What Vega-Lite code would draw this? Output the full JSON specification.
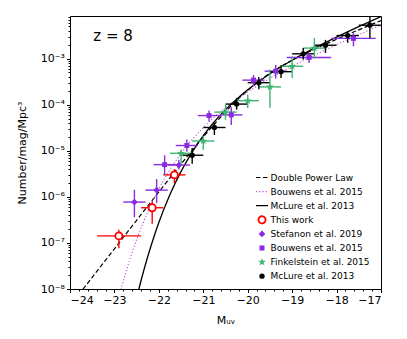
{
  "$schema": "https://vega.github.io/schema/vega-lite/v6.json",
  "width": 311,
  "height": 273,
  "autosize": {"type": "none"},
  "padding": {"left": 70, "top": 16, "right": 26, "bottom": 50},
  "config": {
    "font": "DejaVu Sans",
    "view": {"stroke": "black", "strokeWidth": 1},
    "axis": {
      "domain": false, "grid": false, "tickColor": "black", "tickWidth": 1,
      "labelColor": "black", "titleColor": "black", "labelFont": "DejaVu Sans", "titleFont": "DejaVu Sans",
      "labelFontSize": 11, "titleFontSize": 11, "titleFontWeight": "normal", "labelPadding": 2
    },
    "legend": {"labelFont": "DejaVu Sans"}
  },
  "datasets": {
    "curves": [
      {"series": "Double Power Law", "M": -24.0, "phi": 4.31e-9},
      {"series": "Double Power Law", "M": -23.5, "phi": 1.79e-8},
      {"series": "Double Power Law", "M": -23.0, "phi": 7.46e-8},
      {"series": "Double Power Law", "M": -22.5, "phi": 3.10e-7},
      {"series": "Double Power Law", "M": -22.0, "phi": 1.276e-6},
      {"series": "Double Power Law", "M": -21.5, "phi": 5.16e-6},
      {"series": "Double Power Law", "M": -21.0, "phi": 2.0e-5},
      {"series": "Double Power Law", "M": -20.75, "phi": 3.79e-5},
      {"series": "Double Power Law", "M": -20.5, "phi": 6.98e-5},
      {"series": "Double Power Law", "M": -20.25, "phi": 1.23e-4},
      {"series": "Double Power Law", "M": -20.0, "phi": 2.04e-4},
      {"series": "Double Power Law", "M": -19.75, "phi": 3.21e-4},
      {"series": "Double Power Law", "M": -19.5, "phi": 4.76e-4},
      {"series": "Double Power Law", "M": -19.0, "phi": 9.23e-4},
      {"series": "Double Power Law", "M": -18.5, "phi": 1.60e-3},
      {"series": "Double Power Law", "M": -18.0, "phi": 2.62e-3},
      {"series": "Double Power Law", "M": -17.5, "phi": 4.21e-3},
      {"series": "Double Power Law", "M": -17.0, "phi": 6.70e-3},
      {"series": "Bouwens et al. 2015 fit", "M": -23.0, "phi": 2.79e-9},
      {"series": "Bouwens et al. 2015 fit", "M": -22.875, "phi": 8.2e-9},
      {"series": "Bouwens et al. 2015 fit", "M": -22.75, "phi": 2.19e-8},
      {"series": "Bouwens et al. 2015 fit", "M": -22.5, "phi": 1.178e-7},
      {"series": "Bouwens et al. 2015 fit", "M": -22.25, "phi": 4.71e-7},
      {"series": "Bouwens et al. 2015 fit", "M": -22.0, "phi": 1.486e-6},
      {"series": "Bouwens et al. 2015 fit", "M": -21.75, "phi": 3.89e-6},
      {"series": "Bouwens et al. 2015 fit", "M": -21.5, "phi": 8.75e-6},
      {"series": "Bouwens et al. 2015 fit", "M": -21.25, "phi": 1.75e-5},
      {"series": "Bouwens et al. 2015 fit", "M": -21.0, "phi": 3.18e-5},
      {"series": "Bouwens et al. 2015 fit", "M": -20.75, "phi": 5.38e-5},
      {"series": "Bouwens et al. 2015 fit", "M": -20.5, "phi": 8.57e-5},
      {"series": "Bouwens et al. 2015 fit", "M": -20.0, "phi": 1.90e-4},
      {"series": "Bouwens et al. 2015 fit", "M": -19.5, "phi": 3.74e-4},
      {"series": "Bouwens et al. 2015 fit", "M": -19.0, "phi": 6.81e-4},
      {"series": "Bouwens et al. 2015 fit", "M": -18.5, "phi": 1.183e-3},
      {"series": "Bouwens et al. 2015 fit", "M": -18.0, "phi": 2.00e-3},
      {"series": "Bouwens et al. 2015 fit", "M": -17.5, "phi": 3.30e-3},
      {"series": "Bouwens et al. 2015 fit", "M": -17.0, "phi": 5.38e-3},
      {"series": "McLure et al. 2013 fit", "M": -22.5, "phi": 6.35e-9},
      {"series": "McLure et al. 2013 fit", "M": -22.375, "phi": 1.89e-8},
      {"series": "McLure et al. 2013 fit", "M": -22.25, "phi": 5.07e-8},
      {"series": "McLure et al. 2013 fit", "M": -22.125, "phi": 1.236e-7},
      {"series": "McLure et al. 2013 fit", "M": -22.0, "phi": 2.77e-7},
      {"series": "McLure et al. 2013 fit", "M": -21.75, "phi": 1.12e-6},
      {"series": "McLure et al. 2013 fit", "M": -21.5, "phi": 3.56e-6},
      {"series": "McLure et al. 2013 fit", "M": -21.25, "phi": 9.38e-6},
      {"series": "McLure et al. 2013 fit", "M": -21.0, "phi": 2.12e-5},
      {"series": "McLure et al. 2013 fit", "M": -20.75, "phi": 4.27e-5},
      {"series": "McLure et al. 2013 fit", "M": -20.5, "phi": 7.80e-5},
      {"series": "McLure et al. 2013 fit", "M": -20.25, "phi": 1.318e-4},
      {"series": "McLure et al. 2013 fit", "M": -20.0, "phi": 2.10e-4},
      {"series": "McLure et al. 2013 fit", "M": -19.5, "phi": 4.69e-4},
      {"series": "McLure et al. 2013 fit", "M": -19.0, "phi": 9.23e-4},
      {"series": "McLure et al. 2013 fit", "M": -18.5, "phi": 1.683e-3},
      {"series": "McLure et al. 2013 fit", "M": -18.0, "phi": 2.92e-3},
      {"series": "McLure et al. 2013 fit", "M": -17.5, "phi": 4.93e-3},
      {"series": "McLure et al. 2013 fit", "M": -17.0, "phi": 8.17e-3}
    ],
    "pts": [
      {"series": "This work", "M": -22.90, "phi": 1.42e-7, "Mlo": -23.39, "Mhi": -22.40, "plo": 7.7e-8, "phihi": 1.92e-7},
      {"series": "This work", "M": -22.15, "phi": 5.8e-7, "Mlo": -22.40, "Mhi": -21.90, "plo": 2.6e-7, "phihi": 7.9e-7},
      {"series": "This work", "M": -21.65, "phi": 3.0e-6, "Mlo": -21.90, "Mhi": -21.40, "plo": 2.0e-6, "phihi": 4.0e-6},
      {"series": "Stefanon et al. 2019", "M": -22.55, "phi": 7.7e-7, "Mlo": -22.80, "Mhi": -22.30, "plo": 3.6e-7, "phihi": 1.42e-6},
      {"series": "Stefanon et al. 2019", "M": -22.05, "phi": 1.4e-6, "Mlo": -22.30, "Mhi": -21.80, "plo": 7.3e-7, "phihi": 2.43e-6},
      {"series": "Stefanon et al. 2019", "M": -21.55, "phi": 4.9e-6, "Mlo": -21.80, "Mhi": -21.30, "plo": 3.9e-6, "phihi": 6.4e-6},
      {"series": "Bouwens et al. 2015", "M": -21.87, "phi": 5.0e-6, "Mlo": -22.12, "Mhi": -21.62, "plo": 3.0e-6, "phihi": 8.0e-6},
      {"series": "Bouwens et al. 2015", "M": -21.37, "phi": 1.3e-5, "Mlo": -21.62, "Mhi": -21.12, "plo": 9.5e-6, "phihi": 1.75e-5},
      {"series": "Bouwens et al. 2015", "M": -20.87, "phi": 5.8e-5, "Mlo": -21.12, "Mhi": -20.62, "plo": 4.3e-5, "phihi": 7.5e-5},
      {"series": "Bouwens et al. 2015", "M": -20.37, "phi": 6.0e-5, "Mlo": -20.62, "Mhi": -20.12, "plo": 3.6e-5, "phihi": 8.8e-5},
      {"series": "Bouwens et al. 2015", "M": -19.87, "phi": 3.41e-4, "Mlo": -20.12, "Mhi": -19.62, "plo": 2.5e-4, "phihi": 4.4e-4},
      {"series": "Bouwens et al. 2015", "M": -19.37, "phi": 5.34e-4, "Mlo": -19.62, "Mhi": -19.12, "plo": 3.7e-4, "phihi": 7.3e-4},
      {"series": "Bouwens et al. 2015", "M": -18.62, "phi": 1.06e-3, "Mlo": -19.12, "Mhi": -18.12, "plo": 8.0e-4, "phihi": 1.33e-3},
      {"series": "Bouwens et al. 2015", "M": -17.62, "phi": 2.74e-3, "Mlo": -18.12, "Mhi": -17.12, "plo": 1.85e-3, "phihi": 3.55e-3},
      {"series": "Finkelstein et al. 2015", "M": -21.5, "phi": 8.8e-6, "Mlo": -21.75, "Mhi": -21.25, "plo": 5.0e-6, "phihi": 1.05e-5},
      {"series": "Finkelstein et al. 2015", "M": -21.0, "phi": 1.63e-5, "Mlo": -21.25, "Mhi": -20.75, "plo": 1.05e-5, "phihi": 2.1e-5},
      {"series": "Finkelstein et al. 2015", "M": -20.5, "phi": 6.9e-5, "Mlo": -20.75, "Mhi": -20.25, "plo": 4.7e-5, "phihi": 1.0e-4},
      {"series": "Finkelstein et al. 2015", "M": -20.0, "phi": 1.22e-4, "Mlo": -20.25, "Mhi": -19.75, "plo": 8.5e-5, "phihi": 1.65e-4},
      {"series": "Finkelstein et al. 2015", "M": -19.5, "phi": 2.43e-4, "Mlo": -19.75, "Mhi": -19.25, "plo": 8.6e-5, "phihi": 5.8e-4},
      {"series": "Finkelstein et al. 2015", "M": -19.0, "phi": 6.8e-4, "Mlo": -19.25, "Mhi": -18.75, "plo": 3.8e-4, "phihi": 1.12e-3},
      {"series": "Finkelstein et al. 2015", "M": -18.5, "phi": 1.69e-3, "Mlo": -18.75, "Mhi": -18.25, "plo": 1.0e-3, "phihi": 2.8e-3},
      {"series": "McLure et al. 2013", "M": -21.25, "phi": 8.0e-6, "Mlo": -21.5, "Mhi": -21.0, "plo": 5.2e-6, "phihi": 1.15e-5},
      {"series": "McLure et al. 2013", "M": -20.75, "phi": 3.2e-5, "Mlo": -21.0, "Mhi": -20.5, "plo": 2.2e-5, "phihi": 4.0e-5},
      {"series": "McLure et al. 2013", "M": -20.25, "phi": 1.03e-4, "Mlo": -20.5, "Mhi": -20.0, "plo": 7.8e-5, "phihi": 1.4e-4},
      {"series": "McLure et al. 2013", "M": -19.75, "phi": 3.0e-4, "Mlo": -20.0, "Mhi": -19.5, "plo": 2.15e-4, "phihi": 4.0e-4},
      {"series": "McLure et al. 2013", "M": -19.25, "phi": 5.2e-4, "Mlo": -19.5, "Mhi": -19.0, "plo": 3.8e-4, "phihi": 7.2e-4},
      {"series": "McLure et al. 2013", "M": -18.75, "phi": 1.27e-3, "Mlo": -19.0, "Mhi": -18.5, "plo": 9.5e-4, "phihi": 1.7e-3},
      {"series": "McLure et al. 2013", "M": -18.25, "phi": 1.95e-3, "Mlo": -18.5, "Mhi": -18.0, "plo": 1.33e-3, "phihi": 2.55e-3},
      {"series": "McLure et al. 2013", "M": -17.75, "phi": 3.16e-3, "Mlo": -18.0, "Mhi": -17.5, "plo": 2.2e-3, "phihi": 3.9e-3},
      {"series": "McLure et al. 2013", "M": -17.25, "phi": 5.3e-3, "Mlo": -17.5, "Mhi": -17.0, "plo": 2.8e-3, "phihi": 8.4e-3}
    ]
  },
  "layer": [
    {
      "data": {"name": "curves"},
      "transform": [{"filter": "datum.series === 'Double Power Law'"}],
      "mark": {"type": "line", "clip": true, "strokeWidth": 1.2, "interpolate": "monotone", "strokeDash": [4.5, 2.5]},
      "encoding": {
        "x": {"field": "M", "type": "quantitative",
          "scale": {"domain": [-24, -17], "nice": false, "zero": false},
          "axis": {"orient": "bottom", "values": [-24, -23, -22, -21, -20, -19, -18, -17], "tickSize": 3.5, "title": "Mᵤᵥ",
            "titleX": 155.5, "titleY": 34, "titleBaseline": "alphabetic", "titleAlign": "center"}},
        "y": {"field": "phi", "type": "quantitative",
          "scale": {"type": "log", "domain": [1e-8, 0.0084], "nice": false},
          "axis": {"orient": "left", "values": [1e-8, 1e-7, 1e-6, 1e-5, 1e-4, 0.001], "tickSize": 3.5,
            "labelExpr": "'10⁻' + ['⁰','¹','²','³','⁴','⁵','⁶','⁷','⁸','⁹'][round(-log(datum.value)/LN10)]",
            "title": "Number/mag/Mpc³", "titleX": -48, "titleY": 136.5, "titleBaseline": "middle", "titleAlign": "center", "titleAngle": -90}},
        "color": {"field": "series", "type": "nominal",
          "scale": {"domain": ["Double Power Law", "Bouwens et al. 2015 fit", "McLure et al. 2013 fit", "This work", "Stefanon et al. 2019", "Bouwens et al. 2015", "Finkelstein et al. 2015", "McLure et al. 2013"],
            "range": ["black", "#ba55d3", "black", "#ff0000", "#8a2be2", "#8a2be2", "#3cb371", "black"]},
          "legend": {"orient": "none", "legendX": 187.5, "legendY": 157, "title": null, "labelFontSize": 9, "symbolSize": 144,
            "rowPadding": -0.9, "gridAlign": "all", "labelOffset": 4, "padding": 0, "labelColor": "black",
            "labelExpr": "replace(datum.label, ' fit', '')",
            "encode": {"symbols": {"update": {
              "shape": {"signal": "(datum.value === 'This work' || datum.value === 'McLure et al. 2013') ? 'circle' : datum.value === 'Stefanon et al. 2019' ? 'diamond' : datum.value === 'Bouwens et al. 2015' ? 'square' : datum.value === 'Finkelstein et al. 2015' ? 'M0,-1L0.2245,-0.309L0.951,-0.309L0.363,0.118L0.588,0.809L0,0.382L-0.588,0.809L-0.363,0.118L-0.951,-0.309L-0.2245,-0.309Z' : 'stroke'"},
              "fill": {"signal": "datum.value === 'This work' ? 'white' : (datum.value === 'Stefanon et al. 2019' || datum.value === 'Bouwens et al. 2015') ? '#8a2be2' : datum.value === 'Finkelstein et al. 2015' ? '#3cb371' : datum.value === 'McLure et al. 2013' ? 'black' : 'transparent'"},
              "fillOpacity": {"signal": "datum.value === 'This work' ? 0 : 1"},
              "stroke": {"signal": "datum.value === 'Bouwens et al. 2015 fit' ? '#ba55d3' : datum.value === 'This work' ? '#ff0000' : (datum.value === 'Stefanon et al. 2019' || datum.value === 'Bouwens et al. 2015') ? '#8a2be2' : datum.value === 'Finkelstein et al. 2015' ? '#3cb371' : 'black'"},
              "strokeWidth": {"signal": "datum.value === 'This work' ? 1.8 : (datum.value === 'Double Power Law' || datum.value === 'Bouwens et al. 2015 fit' || datum.value === 'McLure et al. 2013 fit') ? 1.2 : 0"},
              "strokeDash": {"signal": "datum.value === 'Double Power Law' ? [4.5,2.5] : (datum.value === 'Bouwens et al. 2015 fit' ? [1.2,2] : [1,0])"},
              "size": {"signal": "(datum.value === 'Double Power Law' || datum.value === 'Bouwens et al. 2015 fit' || datum.value === 'McLure et al. 2013 fit') ? 144 : datum.value === 'This work' ? 50 : datum.value === 'Stefanon et al. 2019' ? 45 : datum.value === 'Bouwens et al. 2015' ? 25 : datum.value === 'Finkelstein et al. 2015' ? 70 : 28"},
              "opacity": {"value": 1}
            }}}}}
      }
    },
    {
      "data": {"name": "curves"},
      "transform": [{"filter": "datum.series === 'Bouwens et al. 2015 fit'"}],
      "mark": {"type": "line", "clip": true, "strokeWidth": 1.1, "interpolate": "monotone", "strokeDash": [1.2, 2]},
      "encoding": {
        "x": {"field": "M", "type": "quantitative", "axis": null},
        "y": {"field": "phi", "type": "quantitative", "axis": null},
        "color": {"field": "series", "type": "nominal"}
      }
    },
    {
      "data": {"name": "curves"},
      "transform": [{"filter": "datum.series === 'McLure et al. 2013 fit'"}],
      "mark": {"type": "line", "clip": true, "strokeWidth": 1.3, "interpolate": "monotone"},
      "encoding": {
        "x": {"field": "M", "type": "quantitative", "axis": null},
        "y": {"field": "phi", "type": "quantitative", "axis": null},
        "color": {"field": "series", "type": "nominal"}
      }
    },
    {
      "data": {"name": "pts"},
      "mark": {"type": "rule", "clip": true, "strokeWidth": 1.4},
      "encoding": {
        "x": {"field": "Mlo", "type": "quantitative", "axis": null},
        "x2": {"field": "Mhi"},
        "y": {"field": "phi", "type": "quantitative", "axis": null},
        "color": {"field": "series", "type": "nominal"}
      }
    },
    {
      "data": {"name": "pts"},
      "mark": {"type": "rule", "clip": true, "strokeWidth": 1.4},
      "encoding": {
        "x": {"field": "M", "type": "quantitative", "axis": null},
        "y": {"field": "plo", "type": "quantitative", "axis": null},
        "y2": {"field": "phihi"},
        "color": {"field": "series", "type": "nominal"}
      }
    },
    {
      "data": {"name": "pts"},
      "transform": [{"filter": "datum.series === 'Stefanon et al. 2019'"}],
      "mark": {"type": "point", "filled": true, "opacity": 1, "shape": "diamond", "size": 45},
      "encoding": {
        "x": {"field": "M", "type": "quantitative",
          "axis": {"orient": "bottom", "values": [-23.8, -23.6, -23.4, -23.2, -22.8, -22.6, -22.4, -22.2, -21.8, -21.6, -21.4, -21.2, -20.8, -20.6, -20.4, -20.2, -19.8, -19.6, -19.4, -19.2, -18.8, -18.6, -18.4, -18.2, -17.8, -17.6, -17.4, -17.2],
            "tickSize": 2, "labels": false, "title": null}},
        "y": {"field": "phi", "type": "quantitative",
          "axis": {"orient": "left", "values": [2e-8, 3e-8, 4e-8, 5e-8, 6e-8, 7e-8, 8e-8, 9e-8, 2e-7, 3e-7, 4e-7, 5e-7, 6e-7, 7e-7, 8e-7, 9e-7, 2e-6, 3e-6, 4e-6, 5e-6, 6e-6, 7e-6, 8e-6, 9e-6, 2e-5, 3e-5, 4e-5, 5e-5, 6e-5, 7e-5, 8e-5, 9e-5, 2e-4, 3e-4, 4e-4, 5e-4, 6e-4, 7e-4, 8e-4, 9e-4, 0.002, 0.003, 0.004, 0.005, 0.006, 0.007, 0.008],
            "tickSize": 2, "labels": false, "title": null}},
        "color": {"field": "series", "type": "nominal"}
      }
    },
    {
      "data": {"name": "pts"},
      "transform": [{"filter": "datum.series === 'Bouwens et al. 2015'"}],
      "mark": {"type": "point", "filled": true, "opacity": 1, "shape": "square", "size": 25},
      "encoding": {
        "x": {"field": "M", "type": "quantitative", "axis": null},
        "y": {"field": "phi", "type": "quantitative", "axis": null},
        "color": {"field": "series", "type": "nominal"}
      }
    },
    {
      "data": {"name": "pts"},
      "transform": [{"filter": "datum.series === 'Finkelstein et al. 2015'"}],
      "mark": {"type": "point", "filled": true, "opacity": 1, "shape": "M0,-1L0.2245,-0.309L0.951,-0.309L0.363,0.118L0.588,0.809L0,0.382L-0.588,0.809L-0.363,0.118L-0.951,-0.309L-0.2245,-0.309Z", "size": 70},
      "encoding": {
        "x": {"field": "M", "type": "quantitative", "axis": null},
        "y": {"field": "phi", "type": "quantitative", "axis": null},
        "color": {"field": "series", "type": "nominal"}
      }
    },
    {
      "data": {"name": "pts"},
      "transform": [{"filter": "datum.series === 'McLure et al. 2013'"}],
      "mark": {"type": "point", "filled": true, "opacity": 1, "shape": "circle", "size": 28},
      "encoding": {
        "x": {"field": "M", "type": "quantitative", "axis": null},
        "y": {"field": "phi", "type": "quantitative", "axis": null},
        "color": {"field": "series", "type": "nominal"}
      }
    },
    {
      "data": {"name": "pts"},
      "transform": [{"filter": "datum.series === 'This work'"}],
      "mark": {"type": "point", "filled": false, "fill": "white", "fillOpacity": 1, "strokeWidth": 1.8, "size": 50, "opacity": 1},
      "encoding": {
        "x": {"field": "M", "type": "quantitative", "axis": null},
        "y": {"field": "phi", "type": "quantitative", "axis": null},
        "color": {"field": "series", "type": "nominal"}
      }
    },
    {
      "data": {"values": [{"label": "z = 8"}]},
      "mark": {"type": "text", "fontSize": 15, "align": "left", "baseline": "alphabetic", "font": "DejaVu Sans", "color": "black"},
      "encoding": {
        "text": {"field": "label"},
        "x": {"datum": -23.475, "type": "quantitative", "axis": null},
        "y": {"datum": 0.00246, "type": "quantitative", "axis": null}
      }
    }
  ],
  "resolve": {"axis": {"x": "independent", "y": "independent"}}
}
